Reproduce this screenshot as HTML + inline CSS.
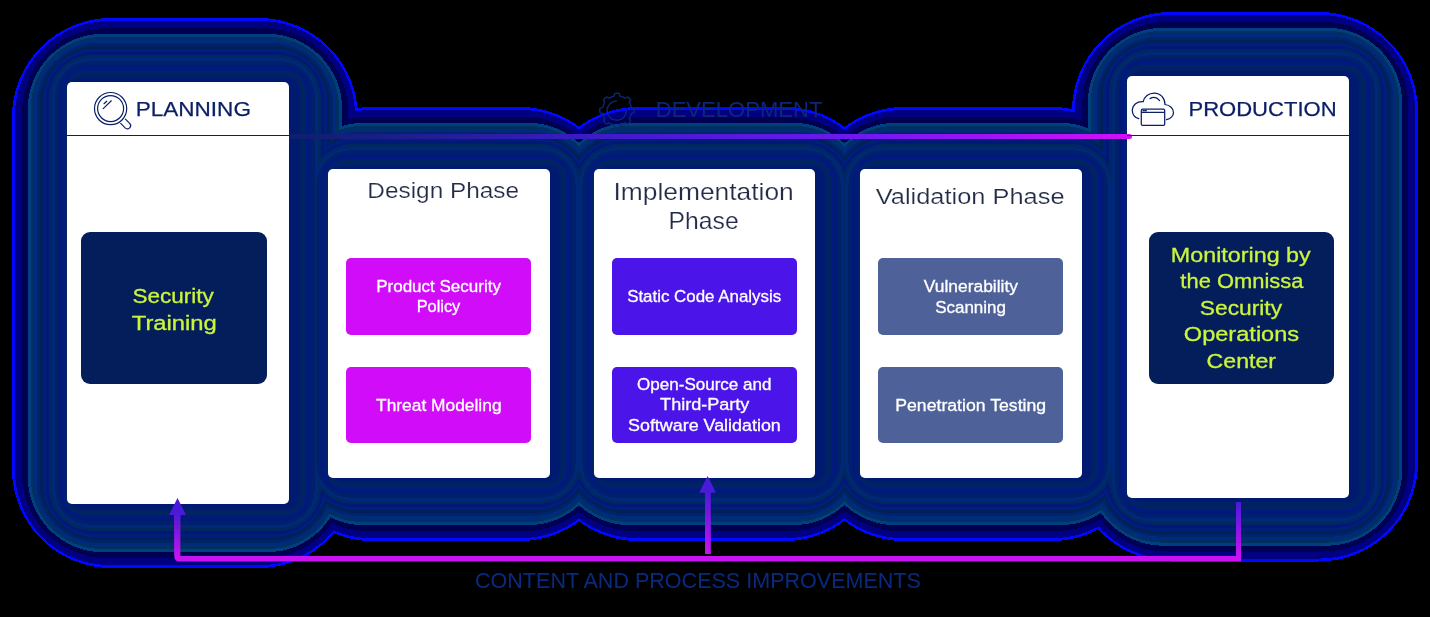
<!DOCTYPE html>
<html><head><meta charset="utf-8">
<style>
html,body{margin:0;padding:0;background:#000;width:1430px;height:617px;overflow:hidden;font-family:"Liberation Sans",sans-serif}
.card{position:absolute;background:#fff;border-radius:5px}
.box{position:absolute}
.ov{position:absolute;left:0;top:0}
</style></head><body>
<svg width="0" height="0" style="position:absolute">
<linearGradient id="topg" x1="0" y1="0" x2="1" y2="0">
<stop offset="0" stop-color="#0c1f6c"/><stop offset="0.35" stop-color="#3a1cc4"/><stop offset="0.68" stop-color="#7018f0"/><stop offset="1" stop-color="#d410f7"/>
</linearGradient>
<linearGradient id="vg" x1="0" y1="0" x2="0" y2="1">
<stop offset="0" stop-color="#4a1ad8"/><stop offset="1" stop-color="#c812f2"/>
</linearGradient>
</svg>
<svg class="ov" width="1430" height="617" shape-rendering="crispEdges" style="isolation:isolate"><rect width="1430" height="617" fill="#000"/><rect x="12" y="18" width="346" height="550" rx="99" fill="#0008ff"/><rect x="273" y="107" width="346" height="434" rx="99" fill="#0008ff"/><rect x="539" y="107" width="345" height="434" rx="99" fill="#0008ff"/><rect x="805" y="107" width="346" height="434" rx="99" fill="#0008ff"/><rect x="1072" y="12" width="346" height="549.5" rx="99" fill="#0008ff"/><rect x="15" y="21" width="340" height="544" rx="94.5" fill="#000080"/><rect x="276" y="110" width="340" height="428" rx="94.5" fill="#000080"/><rect x="542" y="110" width="339" height="428" rx="94.5" fill="#000080"/><rect x="808" y="110" width="340" height="428" rx="94.5" fill="#000080"/><rect x="1075" y="15" width="340" height="543.5" rx="94.5" fill="#000080"/><rect x="22" y="28" width="326" height="530" rx="84" fill="#000050"/><rect x="283" y="117" width="326" height="414" rx="84" fill="#000050"/><rect x="549" y="117" width="325" height="414" rx="84" fill="#000050"/><rect x="815" y="117" width="326" height="414" rx="84" fill="#000050"/><rect x="1082" y="22" width="326" height="529.5" rx="84" fill="#000050"/><rect x="27.8" y="33.8" width="314.4" height="518.4" rx="75.3" fill="#004080"/><rect x="288.8" y="122.8" width="314.4" height="402.4" rx="75.3" fill="#004080"/><rect x="554.8" y="122.8" width="313.4" height="402.4" rx="75.3" fill="#004080"/><rect x="820.8" y="122.8" width="314.4" height="402.4" rx="75.3" fill="#004080"/><rect x="1087.8" y="27.8" width="314.4" height="517.9" rx="75.3" fill="#004080"/><rect x="31" y="37" width="308" height="512" rx="70.5" fill="#003060"/><rect x="292" y="126" width="308" height="396" rx="70.5" fill="#003060"/><rect x="558" y="126" width="307" height="396" rx="70.5" fill="#003060"/><rect x="824" y="126" width="308" height="396" rx="70.5" fill="#003060"/><rect x="1091" y="31" width="308" height="511.5" rx="70.5" fill="#003060"/><rect x="34" y="40" width="302" height="506" rx="66" fill="#002a80"/><rect x="295" y="129" width="302" height="390" rx="66" fill="#002a80"/><rect x="561" y="129" width="301" height="390" rx="66" fill="#002a80"/><rect x="827" y="129" width="302" height="390" rx="66" fill="#002a80"/><rect x="1094" y="34" width="302" height="505.5" rx="66" fill="#002a80"/><rect x="36.9" y="42.9" width="296.2" height="500.2" rx="61.65" fill="#002468"/><rect x="297.9" y="131.9" width="296.2" height="384.2" rx="61.65" fill="#002468"/><rect x="563.9" y="131.9" width="295.2" height="384.2" rx="61.65" fill="#002468"/><rect x="829.9" y="131.9" width="296.2" height="384.2" rx="61.65" fill="#002468"/><rect x="1096.9" y="36.9" width="296.2" height="499.7" rx="61.65" fill="#002468"/><rect x="39.8" y="45.8" width="290.4" height="494.4" rx="57.3" fill="#00205a"/><rect x="300.8" y="134.8" width="290.4" height="378.4" rx="57.3" fill="#00205a"/><rect x="566.8" y="134.8" width="289.4" height="378.4" rx="57.3" fill="#00205a"/><rect x="832.8" y="134.8" width="290.4" height="378.4" rx="57.3" fill="#00205a"/><rect x="1099.8" y="39.8" width="290.4" height="493.9" rx="57.3" fill="#00205a"/><rect x="42.8" y="48.8" width="284.4" height="488.4" rx="52.8" fill="#001f78"/><rect x="303.8" y="137.8" width="284.4" height="372.4" rx="52.8" fill="#001f78"/><rect x="569.8" y="137.8" width="283.4" height="372.4" rx="52.8" fill="#001f78"/><rect x="835.8" y="137.8" width="284.4" height="372.4" rx="52.8" fill="#001f78"/><rect x="1102.8" y="42.8" width="284.4" height="487.9" rx="52.8" fill="#001f78"/><rect x="45.8" y="51.8" width="278.4" height="482.4" rx="48.3" fill="#001878"/><rect x="306.8" y="140.8" width="278.4" height="366.4" rx="48.3" fill="#001878"/><rect x="572.8" y="140.8" width="277.4" height="366.4" rx="48.3" fill="#001878"/><rect x="838.8" y="140.8" width="278.4" height="366.4" rx="48.3" fill="#001878"/><rect x="1105.8" y="45.8" width="278.4" height="481.9" rx="48.3" fill="#001878"/><rect x="48.9" y="54.9" width="272.2" height="476.2" rx="43.65" fill="#00285e"/><rect x="309.9" y="143.9" width="272.2" height="360.2" rx="43.65" fill="#00285e"/><rect x="575.9" y="143.9" width="271.2" height="360.2" rx="43.65" fill="#00285e"/><rect x="841.9" y="143.9" width="272.2" height="360.2" rx="43.65" fill="#00285e"/><rect x="1108.9" y="48.9" width="272.2" height="475.7" rx="43.65" fill="#00285e"/><rect x="52" y="58" width="266" height="470" rx="39" fill="#002878"/><rect x="313" y="147" width="266" height="354" rx="39" fill="#002878"/><rect x="579" y="147" width="265" height="354" rx="39" fill="#002878"/><rect x="845" y="147" width="266" height="354" rx="39" fill="#002878"/><rect x="1112" y="52" width="266" height="469.5" rx="39" fill="#002878"/><rect x="55.4" y="61.4" width="259.2" height="463.2" rx="33.9" fill="#00206a"/><rect x="316.4" y="150.4" width="259.2" height="347.2" rx="33.9" fill="#00206a"/><rect x="582.4" y="150.4" width="258.2" height="347.2" rx="33.9" fill="#00206a"/><rect x="848.4" y="150.4" width="259.2" height="347.2" rx="33.9" fill="#00206a"/><rect x="1115.4" y="55.4" width="259.2" height="462.7" rx="33.9" fill="#00206a"/><rect x="58.8" y="64.8" width="252.4" height="456.4" rx="28.8" fill="#001a78"/><rect x="319.8" y="153.8" width="252.4" height="340.4" rx="28.8" fill="#001a78"/><rect x="585.8" y="153.8" width="251.4" height="340.4" rx="28.8" fill="#001a78"/><rect x="851.8" y="153.8" width="252.4" height="340.4" rx="28.8" fill="#001a78"/><rect x="1118.8" y="58.8" width="252.4" height="455.9" rx="28.8" fill="#001a78"/><rect x="61.9" y="67.9" width="246.2" height="450.2" rx="24.15" fill="#001a80"/><rect x="322.9" y="156.9" width="246.2" height="334.2" rx="24.15" fill="#001a80"/><rect x="588.9" y="156.9" width="245.2" height="334.2" rx="24.15" fill="#001a80"/><rect x="854.9" y="156.9" width="246.2" height="334.2" rx="24.15" fill="#001a80"/><rect x="1121.9" y="61.9" width="246.2" height="449.7" rx="24.15" fill="#001a80"/><rect x="65" y="71" width="240" height="444" rx="19.5" fill="#002460"/><rect x="326" y="160" width="240" height="328" rx="19.5" fill="#002460"/><rect x="592" y="160" width="239" height="328" rx="19.5" fill="#002460"/><rect x="858" y="160" width="240" height="328" rx="19.5" fill="#002460"/><rect x="1125" y="65" width="240" height="443.5" rx="19.5" fill="#002460"/><rect x="68" y="74" width="234" height="438" rx="15" fill="#002068"/><rect x="329" y="163" width="234" height="322" rx="15" fill="#002068"/><rect x="595" y="163" width="233" height="322" rx="15" fill="#002068"/><rect x="861" y="163" width="234" height="322" rx="15" fill="#002068"/><rect x="1128" y="68" width="234" height="437.5" rx="15" fill="#002068"/><rect x="71.4" y="77.4" width="227.2" height="431.2" rx="9.9" fill="#001a70"/><rect x="332.4" y="166.4" width="227.2" height="315.2" rx="9.9" fill="#001a70"/><rect x="598.4" y="166.4" width="226.2" height="315.2" rx="9.9" fill="#001a70"/><rect x="864.4" y="166.4" width="227.2" height="315.2" rx="9.9" fill="#001a70"/><rect x="1131.4" y="71.4" width="227.2" height="430.7" rx="9.9" fill="#001a70"/></svg>
<div class="card" style="left:67px;top:82px;width:222px;height:422px"></div><div class="card" style="left:328px;top:169px;width:222px;height:309px"></div><div class="card" style="left:594px;top:169px;width:221px;height:309px"></div><div class="card" style="left:860px;top:169px;width:222px;height:309px"></div><div class="card" style="left:1127px;top:76px;width:222px;height:422px"></div>
<svg class="ov" width="1430" height="617">
<path d="M289 134 H1129.5 a2.5 2.5 0 0 1 0 5 H289 Z" fill="url(#topg)"/>
</svg>
<div class="box" style="left:67px;top:134.5px;width:222px;height:1.5px;background:#0b1f66"></div>
<div class="box" style="left:1127px;top:134.5px;width:222px;height:1.5px;background:#0b1f66"></div>
<div class="box" style="left:81px;top:232px;width:186px;height:152px;background:#041d5b;border-radius:9px"></div>
<div class="box" style="left:1149px;top:232px;width:185px;height:152px;background:#041d5b;border-radius:9px"></div>
<div class="box" style="left:346px;top:258px;width:185px;height:76.69999999999999px;background:#d00cf8;border-radius:5px"></div>
<div class="box" style="left:346px;top:366.7px;width:185px;height:76.30000000000001px;background:#d00cf8;border-radius:5px"></div>
<div class="box" style="left:612px;top:258px;width:185px;height:76.69999999999999px;background:#4b14e9;border-radius:5px"></div>
<div class="box" style="left:612px;top:366.7px;width:185px;height:76.30000000000001px;background:#4b14e9;border-radius:5px"></div>
<div class="box" style="left:878.3px;top:258px;width:185.0px;height:76.69999999999999px;background:#4e6299;border-radius:5px"></div>
<div class="box" style="left:878.3px;top:366.7px;width:185.0px;height:76.30000000000001px;background:#4e6299;border-radius:5px"></div>
<svg class="ov" width="1430" height="617">
<!-- magnifier -->
<g fill="none" stroke="#0b1f66" stroke-width="1.2" stroke-linecap="round">
<circle cx="110.6" cy="108.6" r="16.1"/>
<circle cx="110.6" cy="108.6" r="13"/>
<path d="M103.2 108.6 L111.3 100.8 M104 103.7 L106.7 101.2"/>
<path d="M125.4 119.1 L129.9 123.6 A3.2 3.2 0 0 1 125.4 128.1 L120.7 123.4"/>
</g>
<!-- cloud -->
<g fill="none" stroke="#0b1f66" stroke-width="1.25" stroke-linecap="round">
<path d="M1138.8 118.6 C1134.5 118 1132.2 114 1132.3 110.2 C1132.6 105 1137 101 1143.2 101.6 C1144.2 96.5 1148.5 93 1154.2 93 C1160.5 93 1165 98 1165 104.5 C1170 105 1173.5 108.5 1173.5 112.5 C1173.5 116 1170.5 119 1166.5 119.6"/>
<path d="M1150.1 98.6 Q1155.5 95.6 1159.6 100.6"/>
<rect x="1141.3" y="109.2" width="23.4" height="16.2" rx="1.2" fill="#fff"/>
<path d="M1142 112.4 H1163.8 M1143 110.7 H1144.2 M1145.2 110.7 H1146.4" stroke-width="1.2"/>
</g>
<!-- gear -->
<g fill="none" stroke="#0b2878" stroke-width="1.4" stroke-linecap="round">
<path d="M634.20 110.50 L634.19 111.06 L634.16 111.62 L634.12 112.19 L633.92 112.73 L632.74 113.10 L631.51 113.39 L631.22 113.82 L631.10 114.28 L630.97 114.74 L630.83 115.19 L630.66 115.64 L630.49 116.09 L630.30 116.53 L630.09 116.96 L629.88 117.38 L629.64 117.80 L629.40 118.21 L629.30 118.72 L629.97 119.79 L630.54 120.89 L630.30 121.41 L629.93 121.84 L629.55 122.26 L629.16 122.66 L628.76 123.05 L628.34 123.43 L627.91 123.80 L627.39 124.04 L626.29 123.47 L625.22 122.80 L624.71 122.90 L624.30 123.14 L623.88 123.38 L623.46 123.59 L623.03 123.80 L622.59 123.99 L622.14 124.16 L621.69 124.33 L621.24 124.47 L620.78 124.60 L620.32 124.72 L619.89 125.01 L619.60 126.24 L619.23 127.42 L618.69 127.62 L618.12 127.66 L617.56 127.69 L617.00 127.70 L616.44 127.69 L615.88 127.66 L615.31 127.62 L614.77 127.42 L614.40 126.24 L614.11 125.01 L613.68 124.72 L613.22 124.60 L612.76 124.47 L612.31 124.33 L611.86 124.16 L611.41 123.99 L610.97 123.80 L610.54 123.59 L610.12 123.38 L609.70 123.14 L609.29 122.90 L608.78 122.80 L607.71 123.47 L606.61 124.04 L606.09 123.80 L605.66 123.43 L605.24 123.05 L604.84 122.66 L604.45 122.26 L604.07 121.84 L603.70 121.41 L603.46 120.89 L604.03 119.79 L604.70 118.72 L604.60 118.21 L604.36 117.80 L604.12 117.38 L603.91 116.96 L603.70 116.53 L603.51 116.09 L603.34 115.64 L603.17 115.19 L603.03 114.74 L602.90 114.28 L602.78 113.82 L602.49 113.39 L601.26 113.10 L600.08 112.73 L599.88 112.19 L599.84 111.62 L599.81 111.06 L599.80 110.50 L599.81 109.94 L599.84 109.38 L599.88 108.81 L600.08 108.27 L601.26 107.90 L602.49 107.61 L602.78 107.18 L602.90 106.72 L603.03 106.26 L603.17 105.81 L603.34 105.36 L603.51 104.91 L603.70 104.47 L603.91 104.04 L604.12 103.62 L604.36 103.20 L604.60 102.79 L604.70 102.28 L604.03 101.21 L603.46 100.11 L603.70 99.59 L604.07 99.16 L604.45 98.74 L604.84 98.34 L605.24 97.95 L605.66 97.57 L606.09 97.20 L606.61 96.96 L607.71 97.53 L608.78 98.20 L609.29 98.10 L609.70 97.86 L610.12 97.62 L610.54 97.41 L610.97 97.20 L611.41 97.01 L611.86 96.84 L612.31 96.67 L612.76 96.53 L613.22 96.40 L613.68 96.28 L614.11 95.99 L614.40 94.76 L614.77 93.58 L615.31 93.38 L615.88 93.34 L616.44 93.31 L617.00 93.30 L617.56 93.31 L618.12 93.34 L618.69 93.38 L619.23 93.58 L619.60 94.76 L619.89 95.99 L620.32 96.28 L620.78 96.40 L621.24 96.53 L621.69 96.67 L622.14 96.84 L622.59 97.01 L623.03 97.20 L623.46 97.41 L623.88 97.62 L624.30 97.86 L624.71 98.10 L625.22 98.20 L626.29 97.53 L627.39 96.96 L627.91 97.20 L628.34 97.57 L628.76 97.95 L629.16 98.34 L629.55 98.74 L629.93 99.16 L630.30 99.59 L630.54 100.11 L629.97 101.21 L629.30 102.28 L629.40 102.79 L629.64 103.20 L629.88 103.62 L630.09 104.04 L630.30 104.47 L630.49 104.91 L630.66 105.36 L630.83 105.81 L630.97 106.26 L631.10 106.72 L631.22 107.18 L631.51 107.61 L632.74 107.90 L633.92 108.27 L634.12 108.81 L634.16 109.38 L634.19 109.94 Z"/>
<path d="M616.8 100.9 A9.7 9.7 0 1 0 626.5 110.6"/>
</g>
<!-- bottom connectors -->
<path d="M174.4 514 V557 a4.5 4.5 0 0 0 4.5 4.5 H1241 V502 H1236 V556 H180.2 V514 Z" fill="#c812f2"/>
<rect x="174.4" y="514" width="5.8" height="42" fill="url(#vg)"/>
<path d="M177.5 498 L186 515 L169 515 Z" fill="#4a1ad8"/>
<rect x="705" y="492" width="5.8" height="62" fill="url(#vg)"/>
<path d="M707.6 476 L716 492.7 L699.2 492.7 Z" fill="#4a1ad8"/>
<rect x="1236" y="502" width="5" height="54" fill="url(#vg)"/>
</svg>
<svg class="ov" width="1430" height="617" font-family="Liberation Sans" xml:space="preserve" style="will-change:transform"><text x="135.70" y="116.39" font-size="20.70" font-weight="400" fill="#0b1f66" textLength="115.23" lengthAdjust="spacingAndGlyphs" style="stroke:#0b1f66;stroke-width:0.25px">PLANNING</text>
<text x="1188.44" y="116.49" font-size="20.85" font-weight="400" fill="#0b1f66" textLength="148.18" lengthAdjust="spacingAndGlyphs" style="stroke:#0b1f66;stroke-width:0.25px">PRODUCTION</text>
<text x="655.74" y="116.58" font-size="22.25" font-weight="400" fill="#0b2878" textLength="166.64" lengthAdjust="spacingAndGlyphs" style="">DEVELOPMENT</text>
<text x="367.35" y="198.27" font-size="22.85" font-weight="400" fill="#232c47" textLength="151.77" lengthAdjust="spacingAndGlyphs" style="stroke:#fff;stroke-width:0.2px">Design Phase</text>
<text x="613.43" y="199.77" font-size="22.99" font-weight="400" fill="#232c47" textLength="180.34" lengthAdjust="spacingAndGlyphs" style="stroke:#fff;stroke-width:0.2px">Implementation</text>
<text x="668.63" y="229.07" font-size="22.99" font-weight="400" fill="#232c47" textLength="70.00" lengthAdjust="spacingAndGlyphs" style="stroke:#fff;stroke-width:0.2px">Phase</text>
<text x="875.75" y="204.48" font-size="22.17" font-weight="400" fill="#232c47" textLength="188.80" lengthAdjust="spacingAndGlyphs" style="stroke:#fff;stroke-width:0.2px">Validation Phase</text>
<text x="376.24" y="291.94" font-size="15.95" font-weight="400" fill="#ffffff" textLength="124.67" lengthAdjust="spacingAndGlyphs" style="stroke:#ffffff;stroke-width:0.3px">Product Security</text>
<text x="416.69" y="312.44" font-size="15.95" font-weight="400" fill="#ffffff" textLength="43.53" lengthAdjust="spacingAndGlyphs" style="stroke:#ffffff;stroke-width:0.3px">Policy</text>
<text x="376.05" y="410.84" font-size="15.95" font-weight="400" fill="#ffffff" textLength="125.50" lengthAdjust="spacingAndGlyphs" style="stroke:#ffffff;stroke-width:0.3px">Threat Modeling</text>
<text x="627.16" y="301.84" font-size="15.95" font-weight="400" fill="#ffffff" textLength="154.05" lengthAdjust="spacingAndGlyphs" style="stroke:#ffffff;stroke-width:0.3px">Static Code Analysis</text>
<text x="637.05" y="390.14" font-size="15.95" font-weight="400" fill="#ffffff" textLength="134.44" lengthAdjust="spacingAndGlyphs" style="stroke:#ffffff;stroke-width:0.3px">Open-Source and</text>
<text x="660.14" y="410.34" font-size="15.95" font-weight="400" fill="#ffffff" textLength="89.26" lengthAdjust="spacingAndGlyphs" style="stroke:#ffffff;stroke-width:0.3px">Third-Party</text>
<text x="628.01" y="430.54" font-size="15.95" font-weight="400" fill="#ffffff" textLength="152.80" lengthAdjust="spacingAndGlyphs" style="stroke:#ffffff;stroke-width:0.3px">Software Validation</text>
<text x="923.83" y="292.34" font-size="15.95" font-weight="400" fill="#ffffff" textLength="94.18" lengthAdjust="spacingAndGlyphs" style="stroke:#ffffff;stroke-width:0.3px">Vulnerability</text>
<text x="935.15" y="312.84" font-size="15.95" font-weight="400" fill="#ffffff" textLength="70.87" lengthAdjust="spacingAndGlyphs" style="stroke:#ffffff;stroke-width:0.3px">Scanning</text>
<text x="895.29" y="410.84" font-size="15.95" font-weight="400" fill="#ffffff" textLength="150.82" lengthAdjust="spacingAndGlyphs" style="stroke:#ffffff;stroke-width:0.3px">Penetration Testing</text>
<text x="132.47" y="302.89" font-size="20.82" font-weight="400" fill="#cbf53a" textLength="81.38" lengthAdjust="spacingAndGlyphs" style="stroke:#cbf53a;stroke-width:0.3px">Security</text>
<text x="131.72" y="329.99" font-size="20.82" font-weight="400" fill="#cbf53a" textLength="85.14" lengthAdjust="spacingAndGlyphs" style="stroke:#cbf53a;stroke-width:0.3px">Training</text>
<text x="1170.84" y="262.09" font-size="20.96" font-weight="400" fill="#cbf53a" textLength="139.83" lengthAdjust="spacingAndGlyphs" style="stroke:#cbf53a;stroke-width:0.3px">Monitoring by</text>
<text x="1180.36" y="288.29" font-size="20.96" font-weight="400" fill="#cbf53a" textLength="123.01" lengthAdjust="spacingAndGlyphs" style="stroke:#cbf53a;stroke-width:0.3px">the Omnissa</text>
<text x="1199.86" y="315.49" font-size="20.96" font-weight="400" fill="#cbf53a" textLength="82.19" lengthAdjust="spacingAndGlyphs" style="stroke:#cbf53a;stroke-width:0.3px">Security</text>
<text x="1183.82" y="340.79" font-size="20.96" font-weight="400" fill="#cbf53a" textLength="115.33" lengthAdjust="spacingAndGlyphs" style="stroke:#cbf53a;stroke-width:0.3px">Operations</text>
<text x="1206.54" y="368.49" font-size="20.96" font-weight="400" fill="#cbf53a" textLength="69.56" lengthAdjust="spacingAndGlyphs" style="stroke:#cbf53a;stroke-width:0.3px">Center</text>
<text x="475.02" y="588.38" font-size="22.25" font-weight="400" fill="#0a2a80" textLength="445.88" lengthAdjust="spacingAndGlyphs" style="">CONTENT AND PROCESS IMPROVEMENTS</text></svg>
</body></html>
